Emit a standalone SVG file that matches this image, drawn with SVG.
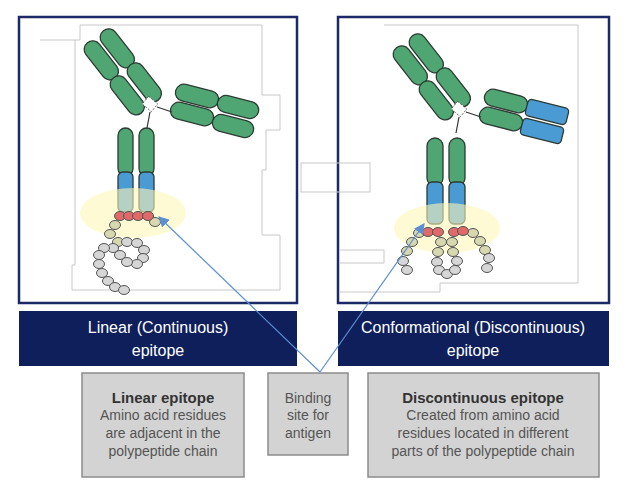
<svg xmlns="http://www.w3.org/2000/svg" width="625" height="483" viewBox="0 0 625 483">
<defs>
<style>
.frame{fill:#fff;stroke:#1b2a66;stroke-width:2.5}
.bar{fill:#0e1f5b}
.bt{font-family:"Liberation Sans",Arial,sans-serif;font-size:16px;fill:#fff;text-anchor:middle}
.box{fill:#d3d3d3;stroke:#8c8c8c;stroke-width:1.5}
.gt{font-family:"Liberation Sans",Arial,sans-serif;font-size:14px;fill:#555;text-anchor:middle}
.gb{font-family:"Liberation Sans",Arial,sans-serif;font-size:15px;font-weight:bold;fill:#333;text-anchor:middle}
.g{fill:#4fa672;stroke:#2c3b33;stroke-width:1.3}
.b{fill:#4a9ad4;stroke:#2c3b33;stroke-width:1.3}
.r{fill:#e06a6a;stroke:#555;stroke-width:1}
.y{fill:#d8d8b0;stroke:#555;stroke-width:1}
.k{fill:#d6d6d6;stroke:#555;stroke-width:1}
ellipse.r,ellipse.y,ellipse.k{rx:5.5px;ry:4.5px}
.halo{fill:#fbf6b8;opacity:0.6}
.con{stroke:#5b8fd1;stroke-width:1.2;fill:none}
.faint{fill:none;stroke:#c8c8c8;stroke-width:1}
</style>
<marker id="ah" viewBox="0 0 10 10" refX="9" refY="5" markerWidth="9" markerHeight="9" orient="auto"><path d="M0,0L10,5L0,10z" fill="#5b8fd1"/></marker>
<g id="arms">
<rect class="g" x="-22" y="-8.5" width="45" height="17" rx="8.5" transform="translate(117,48) rotate(52)"/>
<rect class="g" x="-22" y="-8.5" width="45" height="17" rx="8.5" transform="translate(144,82) rotate(52)"/>
<rect class="g" x="-22" y="-8.5" width="45" height="17" rx="8.5" transform="translate(101,60) rotate(52)"/>
<rect class="g" x="-22" y="-8.5" width="45" height="17" rx="8.5" transform="translate(127,95) rotate(52)"/>
<rect class="g" x="-22" y="-8.5" width="44" height="17" rx="8.5" transform="translate(197,96) rotate(14)"/>
<rect class="g" x="-22" y="-8.5" width="44" height="17" rx="8.5" transform="translate(192,114) rotate(14)"/>
<rect x="144" y="99" width="12" height="10" fill="#fff" stroke="#444" stroke-width="0.8" stroke-dasharray="2,1.5" transform="rotate(40 150 104)"/>
<path d="M157,107L172,112M150,112L147,128" stroke="#333" stroke-width="1.2"/>
</g>
</defs>
<rect width="625" height="483" fill="#fff"/>
<g id="left-panel">
<rect class="frame" x="19" y="17" width="278" height="286"/>
<path class="faint" d="M40,40H80V25H262V95H280V130H266V170H262V235H280V290H72V265H75V40"/>
<use href="#arms"/>
<rect class="g" x="-21" y="-8.5" width="42" height="17" rx="8.5" transform="translate(238,107) rotate(14)"/>
<rect class="g" x="-21" y="-8.5" width="42" height="17" rx="8.5" transform="translate(233,126) rotate(14)"/>
<rect class="g" x="118" y="128" width="15" height="48" rx="7.5"/>
<rect class="g" x="139" y="128" width="15" height="48" rx="7.5"/>
<rect class="b" x="118" y="172" width="15" height="40" rx="5"/>
<rect class="b" x="139" y="172" width="15" height="40" rx="5"/>
<ellipse class="halo" cx="133" cy="213" rx="53" ry="25"/>
<g>
<ellipse class="y" cx="155" cy="222"/>
<ellipse class="y" cx="115" cy="225"/>
<ellipse class="y" cx="110" cy="234"/>
<ellipse class="y" cx="118" cy="242"/>
<ellipse class="k" cx="127" cy="242"/>
<ellipse class="k" cx="137" cy="243"/>
<ellipse class="k" cx="144" cy="250"/>
<ellipse class="k" cx="143" cy="258"/>
<ellipse class="k" cx="137" cy="264"/>
<ellipse class="k" cx="127" cy="262"/>
<ellipse class="k" cx="120" cy="255"/>
<ellipse class="k" cx="113" cy="248"/>
<ellipse class="k" cx="104" cy="248"/>
<ellipse class="k" cx="99" cy="255"/>
<ellipse class="k" cx="99" cy="264"/>
<ellipse class="k" cx="102" cy="273"/>
<ellipse class="k" cx="108" cy="281"/>
<ellipse class="k" cx="115" cy="287"/>
<ellipse class="k" cx="124" cy="290"/>
<ellipse class="r" cx="120" cy="216"/>
<ellipse class="r" cx="129" cy="216"/>
<ellipse class="r" cx="138" cy="216"/>
<ellipse class="r" cx="148" cy="216"/>
</g>
</g>
<g id="right-panel">
<rect class="frame" x="338" y="17" width="271" height="286"/>
<path class="faint" d="M384,25H578V283H440V292H340M340,250H384V263H340"/>
<g transform="translate(309,5)"><use href="#arms"/>
<rect class="b" x="-21" y="-8.5" width="42" height="17" rx="4" transform="translate(238,107) rotate(14)"/>
<rect class="b" x="-21" y="-8.5" width="42" height="17" rx="4" transform="translate(233,126) rotate(14)"/>
</g>
<rect class="g" x="427" y="138" width="16" height="48" rx="8"/>
<rect class="g" x="449" y="138" width="16" height="48" rx="8"/>
<rect class="b" x="427" y="182" width="16" height="42" rx="5"/>
<rect class="b" x="449" y="182" width="16" height="42" rx="5"/>
<ellipse class="halo" cx="447" cy="228" rx="53" ry="25"/>
<g>
<ellipse class="y" cx="419" cy="233"/>
<ellipse class="y" cx="412" cy="242"/>
<ellipse class="y" cx="407" cy="251"/>
<ellipse class="k" cx="403" cy="261"/>
<ellipse class="k" cx="407" cy="270"/>
<ellipse class="y" cx="441" cy="242"/>
<ellipse class="y" cx="438" cy="252"/>
<ellipse class="k" cx="437" cy="262"/>
<ellipse class="k" cx="439" cy="270"/>
<ellipse class="k" cx="447" cy="274"/>
<ellipse class="k" cx="455" cy="270"/>
<ellipse class="k" cx="457" cy="261"/>
<ellipse class="y" cx="453" cy="252"/>
<ellipse class="y" cx="452" cy="242"/>
<ellipse class="y" cx="473" cy="233"/>
<ellipse class="y" cx="480" cy="241"/>
<ellipse class="y" cx="485" cy="250"/>
<ellipse class="k" cx="489" cy="258"/>
<ellipse class="k" cx="487" cy="268"/>
<ellipse class="r" cx="428" cy="232"/>
<ellipse class="r" cx="438" cy="232"/>
<ellipse class="r" cx="454" cy="232"/>
<ellipse class="r" cx="463" cy="231"/>
</g>
</g>
<rect class="faint" x="301" y="163" width="69" height="29"/>
<g id="bar-left"><rect class="bar" x="19" y="311" width="278" height="55"/>
<text class="bt" x="158" y="333">Linear (Continuous)</text><text class="bt" x="158" y="356">epitope</text></g>
<g id="bar-right"><rect class="bar" x="338" y="311" width="271" height="55"/>
<text class="bt" x="473" y="333">Conformational (Discontinuous)</text><text class="bt" x="473" y="356">epitope</text></g>
<g id="box-linear"><rect class="box" x="82" y="373" width="162" height="104"/>
<text class="gb" x="163" y="403">Linear epitope</text>
<text class="gt" x="163" y="420">Amino acid residues</text>
<text class="gt" x="163" y="438">are adjacent in the</text>
<text class="gt" x="163" y="456">polypeptide chain</text></g>
<g id="box-binding"><rect class="box" x="268" y="373" width="80" height="82"/>
<text class="gt" x="308" y="403">Binding</text>
<text class="gt" x="308" y="420">site for</text>
<text class="gt" x="308" y="438">antigen</text></g>
<g id="box-disc"><rect class="box" x="368" y="373" width="231" height="104"/>
<text class="gb" x="483" y="403">Discontinuous epitope</text>
<text class="gt" x="483" y="420">Created from amino acid</text>
<text class="gt" x="483" y="438">residues located in different</text>
<text class="gt" x="483" y="456">parts of the polypeptide chain</text></g>
<g id="connectors">
<path class="con" d="M320,372L159,217" marker-end="url(#ah)"/>
<path class="con" d="M320,372L424,224" marker-end="url(#ah)"/>
</g>
</svg>
